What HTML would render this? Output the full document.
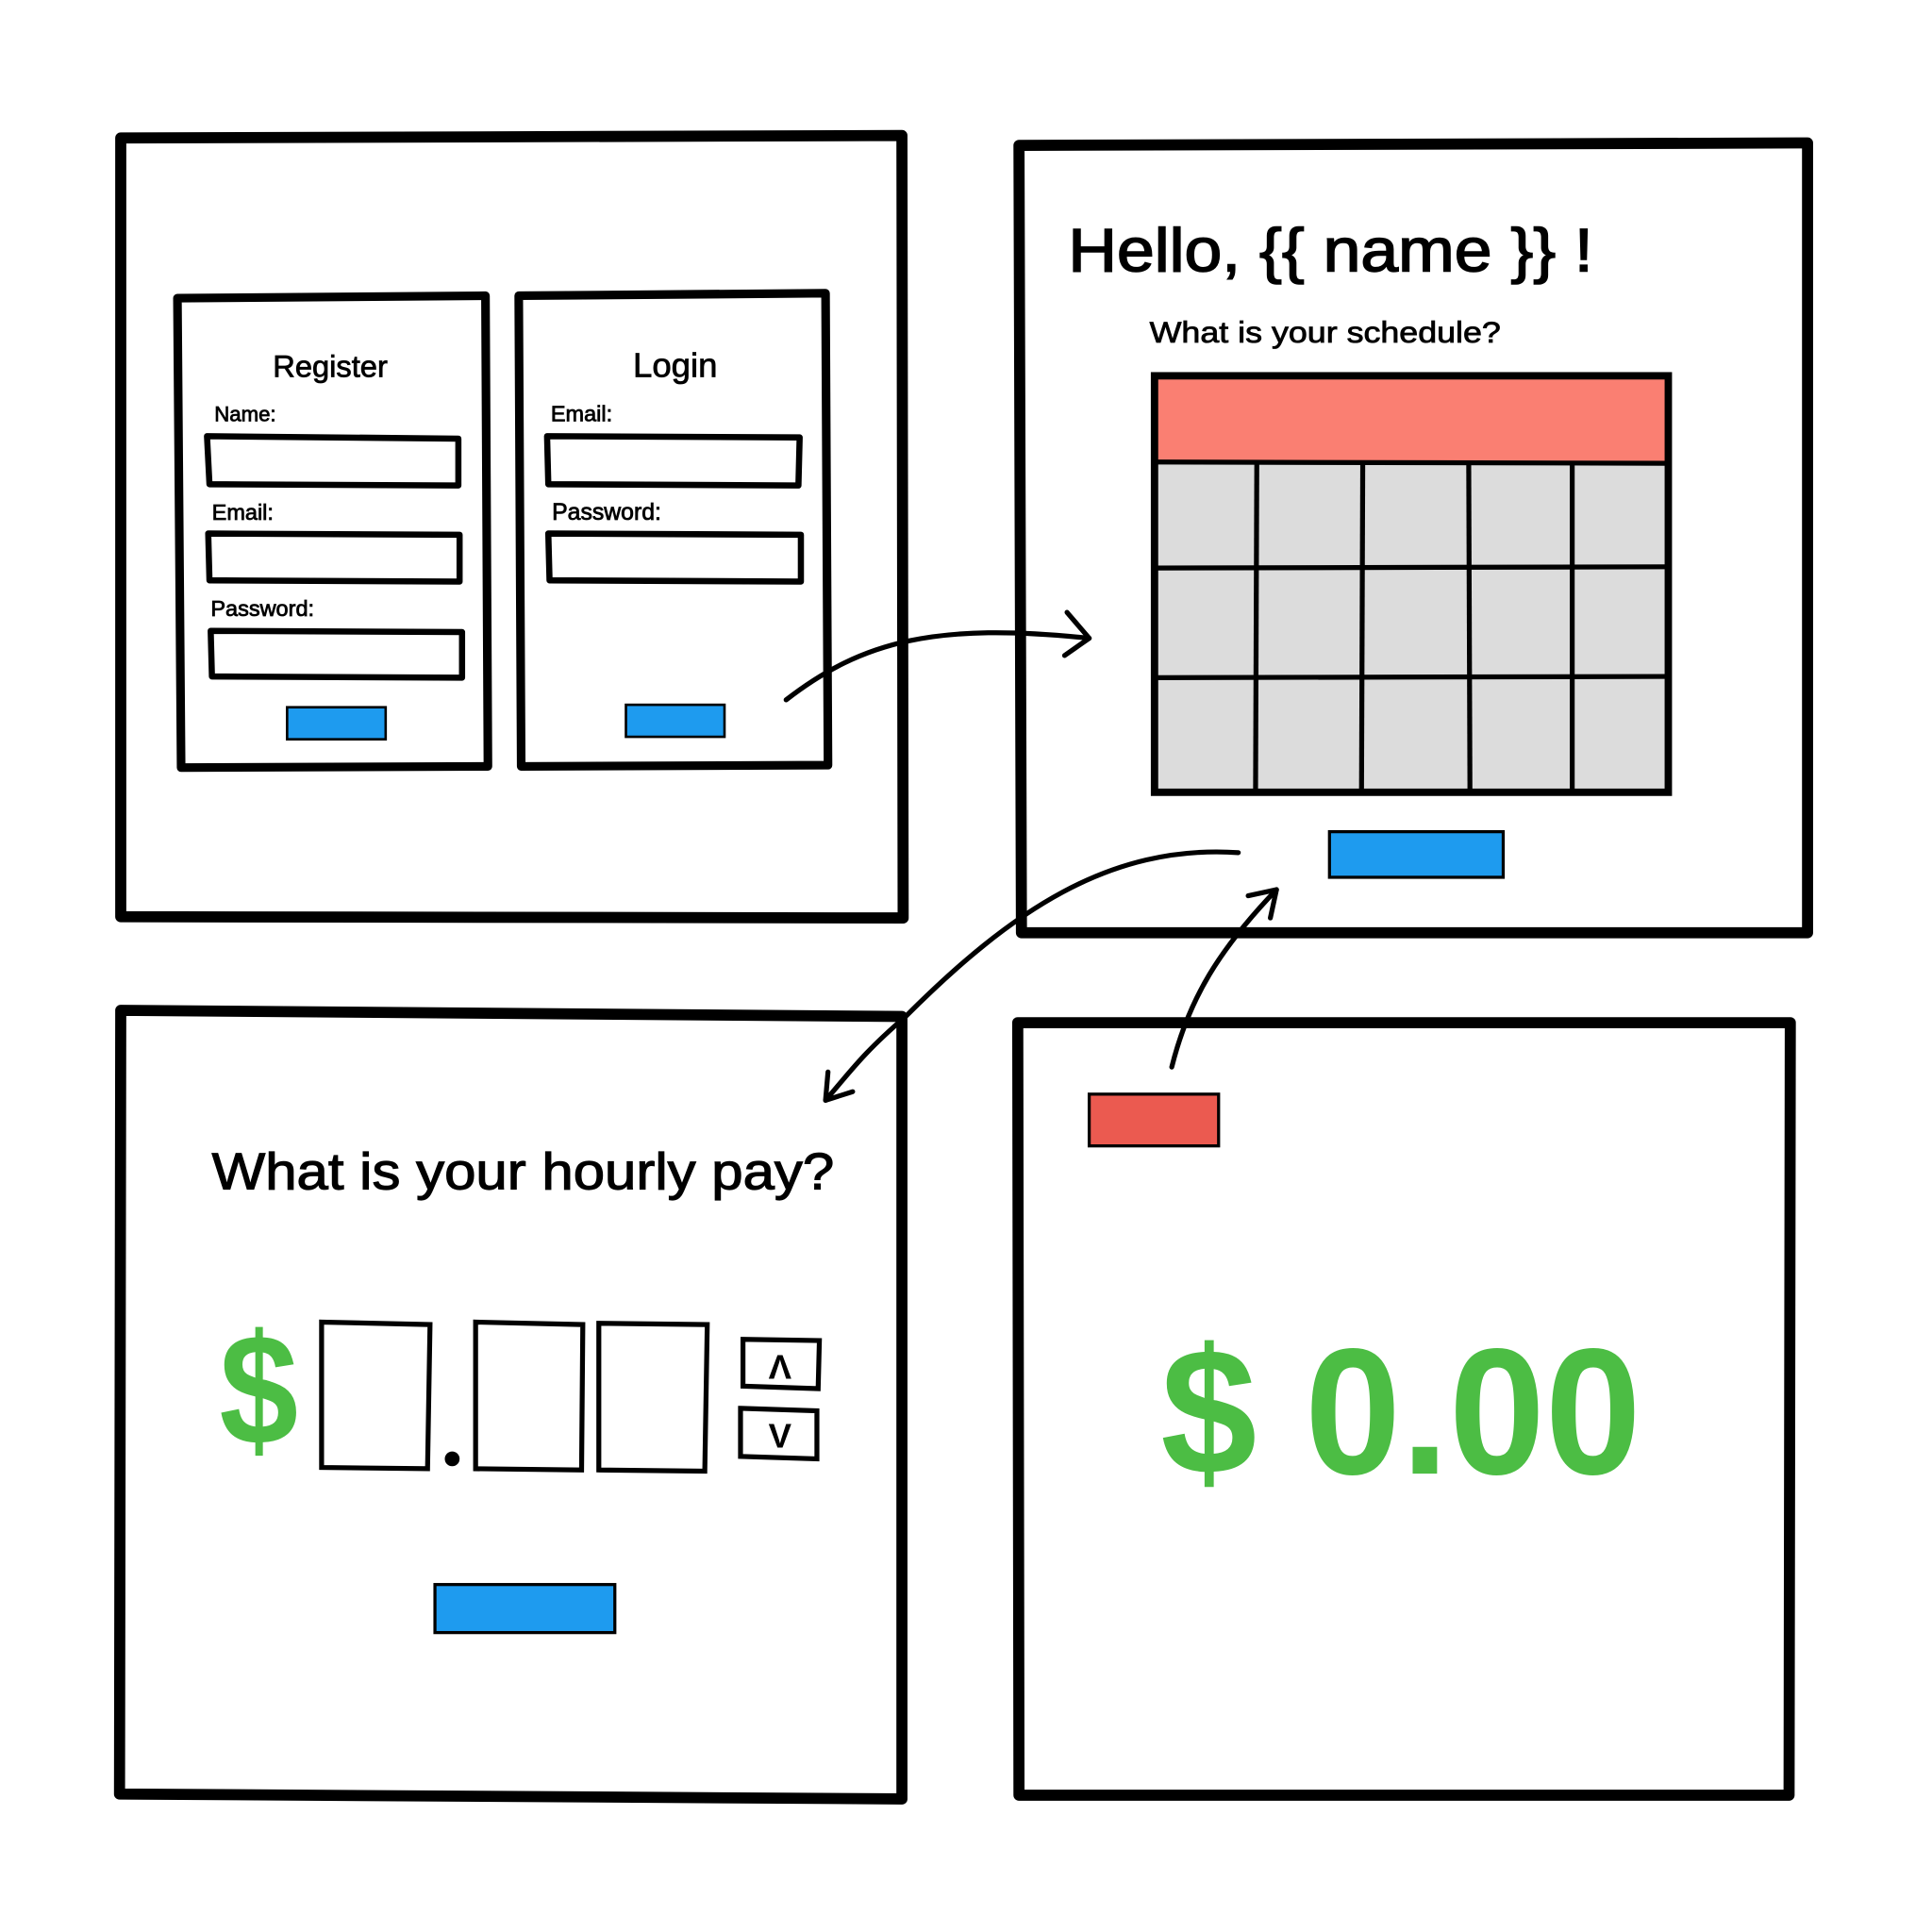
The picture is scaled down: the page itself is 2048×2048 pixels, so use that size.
<!DOCTYPE html>
<html><head><meta charset="utf-8"><style>html,body{margin:0;padding:0;background:#fff}svg{display:block}</style></head>
<body>
<svg width="2048" height="2048" viewBox="0 0 1568 1568" xmlns="http://www.w3.org/2000/svg" font-family="Liberation Sans, sans-serif">
<rect width="1568" height="1568" fill="#fff"/>
<g fill="none" stroke="#000" stroke-linejoin="round" stroke-linecap="round">
<polygon points="98,112 732,110 733,745 98,744" stroke-width="9"/>
<polygon points="827,118 1467,116 1467,757 829,757" stroke-width="9"/>
<polygon points="98,820 732,825 732,1460 97,1456" stroke-width="9"/>
<polygon points="826,830 1453,830 1452,1457 827,1457" stroke-width="9"/>
<polygon points="144,242 394,240 396,622 147,623" stroke-width="7"/>
<polygon points="421,240 670,238 672,621 423,622" stroke-width="7"/>
<polygon points="168,354 372,356 372,394 170,393" stroke-width="5"/>
<polygon points="169,433 373,434 373,472 170,471" stroke-width="5"/>
<polygon points="171,512 375,513 375,550 172,549" stroke-width="5"/>
<polygon points="444,354 649,355 648,394 445,393" stroke-width="5"/>
<polygon points="445,433 650,434 650,472 446,471" stroke-width="5"/>
</g>
<rect x="233" y="574" width="80" height="26" fill="#1E9BEF" stroke="#000" stroke-width="2"/>
<rect x="508" y="572" width="80" height="26" fill="#1E9BEF" stroke="#000" stroke-width="2"/>
<rect x="1079" y="675" width="141" height="37" fill="#1E9BEF" stroke="#000" stroke-width="2.5"/>
<rect x="353" y="1286" width="146" height="39" fill="#1E9BEF" stroke="#000" stroke-width="2.5"/>
<rect x="884" y="888" width="105" height="42" fill="#EB5A50" stroke="#000" stroke-width="2.5"/>
<g fill="#000" stroke="#000" stroke-width="0.6">
<text x="268" y="306" font-size="25" text-anchor="middle">Register</text>
<text x="548" y="306" font-size="28" text-anchor="middle">Login</text>
<text x="174" y="342" font-size="17">Name:</text>
<text x="172" y="422" font-size="18">Email:</text>
<text x="171" y="500" font-size="18">Password:</text>
<text x="447" y="342" font-size="18">Email:</text>
<text x="448" y="422" font-size="19">Password:</text>
<text x="867" y="220" font-size="50" stroke-width="1.2" textLength="426" lengthAdjust="spacingAndGlyphs">Hello, {{ name }} !</text>
<text x="933" y="278" font-size="24" textLength="285" lengthAdjust="spacingAndGlyphs">What is your schedule?</text>
<text x="172" y="965" font-size="42" stroke-width="0.9" textLength="505" lengthAdjust="spacingAndGlyphs">What is your hourly pay?</text>
</g>
<rect x="937" y="305" width="417" height="338" fill="#DCDCDC"/>
<rect x="937" y="305" width="417" height="70" fill="#FA7F72"/>
<g stroke="#000" fill="none" stroke-width="4">
<line x1="937" y1="375" x2="1354" y2="376"/>
<line x1="937" y1="461" x2="1354" y2="460"/>
<line x1="937" y1="550" x2="1354" y2="549"/>
<line x1="1020" y1="375" x2="1019" y2="643"/>
<line x1="1106" y1="375" x2="1105" y2="643"/>
<line x1="1192" y1="375" x2="1193" y2="643"/>
<line x1="1276" y1="375" x2="1276" y2="643"/>
<rect x="937" y="305" width="417" height="338" stroke-width="6"/>
</g>
<text x="178" y="1172" font-size="128" font-weight="bold" fill="#4CBD44" textLength="64" lengthAdjust="spacingAndGlyphs">$</text>
<g fill="none" stroke="#000" stroke-width="4">
<polygon points="261,1073 349,1075 347,1192 261,1191"/>
<polygon points="386,1073 473,1075 472,1193 386,1192"/>
<polygon points="486,1074 574,1075 572,1194 486,1193"/>
<polygon points="603,1087 665,1088 664,1127 603,1125"/>
<polygon points="601,1143 663,1145 663,1184 601,1182"/>
</g>
<circle cx="367" cy="1184" r="6" fill="#000"/>
<text x="633" y="1119" font-size="28" font-weight="bold" text-anchor="middle">Λ</text>
<text x="633" y="1175" font-size="28" font-weight="bold" text-anchor="middle">V</text>
<text x="942" y="1196" font-size="146" font-weight="bold" fill="#4CBD44" textLength="390" lengthAdjust="spacingAndGlyphs">$ 0.00</text>
<g fill="none" stroke="#000" stroke-width="4" stroke-linecap="round" stroke-linejoin="round">
<path d="M638,568 C700,520 760,505 884,518"/>
<path d="M866,497 L884,518 L864,532"/>
<path d="M1005,692 C900,685 820,740 735,825 C700,855 690,870 670,893"/>
<path d="M672,870 L670,893 L692,886"/>
<path d="M951,866 C965,810 990,770 1036,722"/>
<path d="M1013,727 L1036,722 L1031,745"/>
</g>
</svg>
</body></html>
